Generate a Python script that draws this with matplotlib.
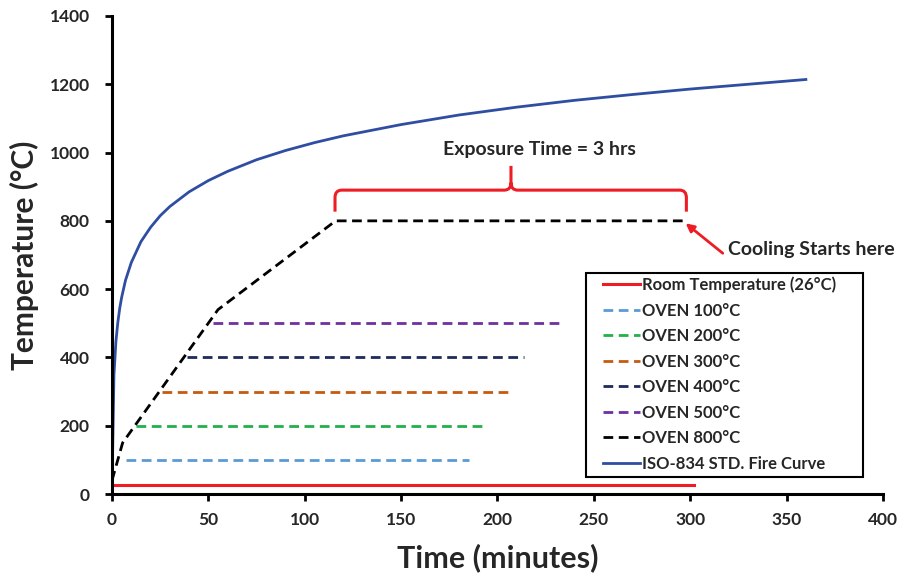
import matplotlib.pyplot as plt
from matplotlib.patches import FancyArrowPatch, PathPatch, Rectangle
from matplotlib.path import Path

plt.rcParams['font.family'] = ['Lato', 'DejaVu Sans']
plt.rcParams['font.weight'] = 'bold'

TXT = '#262626'
RED = '#EE1C25'

# ISO-834 standard fire curve (minutes, degC)
iso_t = [0, 1, 2, 3, 4, 5, 7, 10, 15, 20, 25, 30, 40, 50, 60, 75, 90, 105,
         120, 150, 180, 210, 240, 270, 300, 330, 360]
iso_T = [20, 349, 445, 502, 544, 576, 626, 678, 739, 781, 815, 842, 885, 918,
         945, 979, 1006, 1029, 1049, 1082, 1110, 1133, 1153, 1170, 1186, 1200, 1214]

# room temperature
room_t = [0, 302]
room_T = [26, 26]

# oven 800 heating ramp + hold
oven800_t = [0, 5.5, 55, 116, 297]
oven800_T = [40, 150, 540, 800, 800]

# oven holds at lower setpoints
oven_levels = [100, 200, 300, 400, 500]
oven_start = [7, 12.5, 26, 39, 52.5]
oven_end = [185, 192.5, 206.5, 214, 232]
oven_colors = ['#5B9BD5', '#22B04B', '#C55A11', '#1F2A5C', '#7030A0']

fig = plt.figure(figsize=(9.07, 5.77), dpi=100)
ax = fig.add_axes([0.1235, 0.1438, 0.85, 0.8285])

ax.plot(room_t, room_T, color=RED, lw=2.2, label='Room Temperature (26°C)')
for lvl, t0, t1, c in zip(oven_levels, oven_start, oven_end, oven_colors):
    ax.plot([t0, t1], [lvl, lvl], color=c, lw=2, ls=(0, (3.5, 2)),
            label=f'OVEN {lvl}°C')
ax.plot(oven800_t, oven800_T, color='black', lw=2, ls=(0, (3.5, 2)),
        label='OVEN 800°C')
ax.plot(iso_t, iso_T, color='#2F4EA2', lw=2, label='ISO-834 STD. Fire Curve')

ax.set_xlim(0, 400)
ax.set_ylim(0, 1400)
ax.set_xticks(range(0, 401, 50))
ax.set_yticks(range(0, 1401, 200))
for s in ['top', 'right']:
    ax.spines[s].set_visible(False)
for s in ['left', 'bottom']:
    ax.spines[s].set_linewidth(2.2)
ax.tick_params(width=2, length=5, labelsize=12.5, colors='black', labelcolor=TXT)
ax.tick_params(axis='y', pad=11)
ax.tick_params(axis='x', pad=8)
for lab in ax.get_xticklabels() + ax.get_yticklabels():
    lab.set_fontweight('bold')

ax.set_xlabel('Time (minutes)', fontsize=22, fontweight='bold', labelpad=11, color=TXT)
ax.set_ylabel('Temperature (°C)', fontsize=21.5, fontweight='bold', labelpad=8, color=TXT)

# curly brace over the 3 hour hold
bx0, bx1, bxm = 115.7, 298, 207
by0, by1, byp = 827, 890, 961
dx, dy = 3.5, 22
verts = [(bx0, by0), (bx0, by1 - dy), (bx0, by1), (bx0 + dx, by1),
         (bxm - dx, by1), (bxm, by1), (bxm, by1 + dy), (bxm, byp),
         (bxm, by1 + dy), (bxm, by1), (bxm + dx, by1),
         (bx1 - dx, by1), (bx1, by1), (bx1, by1 - dy), (bx1, by0)]
codes = [Path.MOVETO, Path.LINETO, Path.CURVE3, Path.CURVE3,
         Path.LINETO, Path.CURVE3, Path.CURVE3, Path.LINETO,
         Path.MOVETO, Path.CURVE3, Path.CURVE3,
         Path.LINETO, Path.CURVE3, Path.CURVE3, Path.LINETO]
ax.add_patch(PathPatch(Path(verts, codes), facecolor='none', edgecolor=RED,
                       lw=2.2, capstyle='butt'))
ax.text(222, 1010, 'Exposure Time = 3 hrs', fontsize=14, fontweight='bold',
        ha='center', va='center', color=TXT)

ax.add_patch(FancyArrowPatch((318, 700), (296.5, 798), arrowstyle='-|>',
                             mutation_scale=12, color=RED, lw=2))
ax.text(319.5, 715, 'Cooling Starts here', fontsize=14, fontweight='bold',
        ha='left', va='center', color=TXT)

# legend with a hand-placed frame
ax.add_patch(Rectangle((0.6148, 0.0356), 0.3592, 0.4267, transform=ax.transAxes,
                       facecolor='white', edgecolor='black', lw=1.5, zorder=4,
                       clip_on=False))
leg = ax.legend(loc='upper left', bbox_to_anchor=(0.6368, 0.455), borderaxespad=0,
                prop={'size': 12, 'weight': 'bold'}, frameon=False,
                handlelength=2.2, handletextpad=0.15,
                labelspacing=0.57, borderpad=0)
leg.set_zorder(5)
for t in leg.get_texts():
    t.set_color(TXT)

fig.savefig('out.png', dpi=100, facecolor='white')
